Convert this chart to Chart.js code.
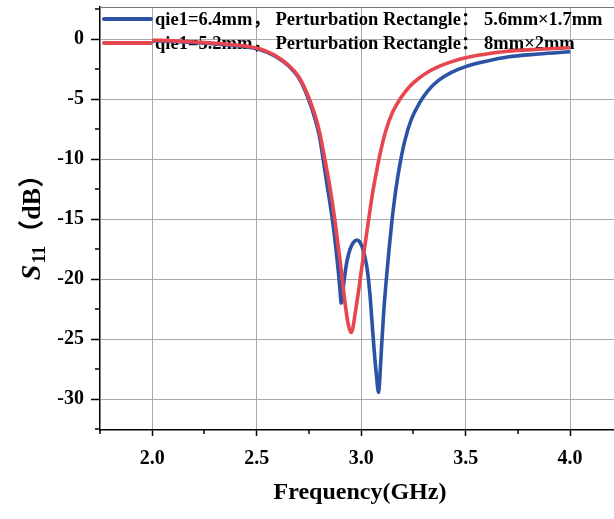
<!DOCTYPE html>
<html><head><meta charset="utf-8">
<script src="https://cdn.jsdelivr.net/npm/chart.js@4.4.0/dist/chart.umd.min.js"></script>
<style>html,body{margin:0;padding:0;background:#fff;}#wrap{width:614px;height:519px;}</style>
</head><body><div id="wrap"><canvas id="c" width="614" height="519"></canvas></div>
<script>
const seriesLabels = [
  "qie1=6.4mm\uFF0C Perturbation Rectangle\uFF1A 5.6mm\u00D71.7mm",
  "qie1=5.2mm\uFF0C Perturbation Rectangle\uFF1A 8mm\u00D72mm"
];
const blueFreq = [2.00,2.10,2.20,2.30,2.40,2.50,2.55,2.60,2.65,2.70,2.75,2.78,2.80,2.817,2.833,2.850,2.865,2.880,2.892,2.899,2.904,2.908,2.913,2.920,2.932,2.947,2.963,2.980,2.995,3.010,3.022,3.032,3.042,3.052,3.062,3.073,3.083,3.090,3.098,3.108,3.120,3.133,3.147,3.160,3.175,3.190,3.210,3.240,3.280,3.320,3.370,3.430,3.500,3.600,3.700,3.850,4.00];
const blueS11 = [-0.15,-0.2,-0.3,-0.4,-0.55,-0.8,-1.1,-1.55,-2.2,-3.2,-5.1,-6.7,-8.1,-9.9,-11.75,-13.6,-15.4,-17.6,-19.6,-21.0,-22.0,-21.9,-21.0,-19.9,-18.5,-17.5,-16.95,-16.75,-16.95,-17.6,-18.5,-19.6,-21.3,-23.6,-25.9,-28.0,-29.45,-28.0,-25.5,-22.7,-20.1,-17.6,-15.2,-13.3,-11.5,-10.0,-8.4,-6.7,-5.3,-4.3,-3.45,-2.8,-2.3,-1.85,-1.5,-1.25,-1.06];
const redFreq = [2.00,2.10,2.20,2.30,2.40,2.50,2.55,2.60,2.65,2.70,2.75,2.78,2.80,2.825,2.850,2.875,2.900,2.920,2.935,2.945,2.952,2.960,2.970,2.985,3.000,3.018,3.036,3.055,3.075,3.090,3.115,3.150,3.190,3.230,3.270,3.320,3.370,3.430,3.500,3.600,3.700,3.850,4.00];
const redS11 = [-0.1,-0.15,-0.25,-0.35,-0.5,-0.75,-1.05,-1.5,-2.15,-3.1,-4.9,-6.4,-7.7,-9.9,-12.3,-15.2,-18.6,-21.6,-23.5,-24.25,-24.45,-24.1,-23.0,-21.3,-19.4,-17.2,-15.0,-12.8,-10.9,-9.6,-7.8,-6.1,-4.9,-4.0,-3.35,-2.75,-2.3,-1.9,-1.55,-1.25,-1.02,-0.85,-0.72];
const xMajorTicks = [2.0,2.5,3.0,3.5,4.0];
const xMinorTicks = [1.75,2.25,2.75,3.25,3.75];
const yMajorTicks = [0,-5,-10,-15,-20,-25,-30];
const yMinorTicks = [2.5,-2.5,-7.5,-12.5,-17.5,-22.5,-27.5,-32.5];
const xTitle = "Frequency(GHz)";
const yTitleMain = "S", yTitleSub = "11", yTitleUnit = "\uFF08dB\uFF09";

const BLUE = '#2a53a6', RED = '#e8464f';
const SERIF = "'Liberation Serif','Times New Roman','Noto Sans CJK SC',serif";

const deco = {
  id: 'deco',
  beforeDatasetsDraw(chart) {
    const ctx = chart.ctx, a = chart.chartArea;
    ctx.save();
    ctx.strokeStyle = '#777'; ctx.lineWidth = 1;
    ctx.beginPath(); ctx.moveTo(a.left, a.top + 0.5); ctx.lineTo(a.right, a.top + 0.5); ctx.stroke();
    const cols = [BLUE, RED];
    const rows = [19, 43];
    ctx.font = "bold 18.5px " + SERIF;
    ctx.textBaseline = 'middle'; ctx.textAlign = 'left';
    for (let i = 0; i < 2; i++) {
      ctx.strokeStyle = cols[i]; ctx.lineWidth = 4; ctx.lineCap = 'round';
      ctx.beginPath(); ctx.moveTo(104, rows[i]); ctx.lineTo(151, rows[i]); ctx.stroke();
      ctx.fillStyle = '#000';
      ctx.fillText(seriesLabels[i], 155, rows[i] + 1);
    }
    ctx.restore();
  },
  afterDraw(chart) {
    const ctx = chart.ctx, xs = chart.scales.x, ys = chart.scales.y;
    ctx.save();
    ctx.strokeStyle = '#000'; ctx.lineWidth = 1.5;
    xMinorTicks.forEach(v => {
      const px = Math.round(xs.getPixelForValue(v));
      ctx.beginPath(); ctx.moveTo(px, xs.top); ctx.lineTo(px, xs.top + 4); ctx.stroke();
    });
    yMinorTicks.forEach(v => {
      const py = Math.round(ys.getPixelForValue(v));
      ctx.beginPath(); ctx.moveTo(ys.right, py); ctx.lineTo(ys.right - 5, py); ctx.stroke();
    });
    ctx.fillStyle = '#000';
    ctx.font = "bold 24px " + SERIF;
    ctx.textAlign = 'center'; ctx.textBaseline = 'alphabetic';
    ctx.fillText(xTitle, 360, 499);
    ctx.translate(40, 221);
    ctx.rotate(-Math.PI / 2);
    const fMain = "italic bold 28px " + SERIF, fSub = "bold 19px " + SERIF, fUnit = "bold 26px " + SERIF;
    ctx.font = fMain; const w1 = ctx.measureText(yTitleMain).width;
    ctx.font = fSub; const w2 = ctx.measureText(yTitleSub).width;
    ctx.font = fUnit; const w3 = ctx.measureText(yTitleUnit).width;
    let x0 = -(w1 + w2 + w3 + 1) / 2;
    ctx.textAlign = 'left';
    ctx.font = fMain; ctx.fillText(yTitleMain, x0, 0); x0 += w1 + 1;
    ctx.font = fSub; ctx.fillText(yTitleSub, x0, 5); x0 += w2;
    ctx.font = fUnit; ctx.fillText(yTitleUnit, x0, 0);
    ctx.restore();
  }
};

function noPad(s) { s.paddingTop = 0; s.paddingBottom = 0; s.paddingLeft = 0; s.paddingRight = 0; }

new Chart(document.getElementById('c'), {
  type: 'line',
  data: {
    datasets: [
      { label: seriesLabels[0], data: blueFreq.map((f, i) => ({x: f, y: blueS11[i]})), borderColor: BLUE, borderWidth: 3.6, pointRadius: 0, cubicInterpolationMode: 'monotone', fill: false, order: 1 },
      { label: seriesLabels[1], data: redFreq.map((f, i) => ({x: f, y: redS11[i]})), borderColor: RED, borderWidth: 3.6, pointRadius: 0, cubicInterpolationMode: 'monotone', fill: false, order: 0 }
    ]
  },
  options: {
    responsive: false, animation: false, devicePixelRatio: 1,
    layout: { padding: { top: 7, right: 0, left: 0, bottom: 0 } },
    plugins: { legend: { display: false }, tooltip: { enabled: false } },
    scales: {
      x: {
        type: 'linear', min: 1.75, max: 4.21,
        afterBuildTicks: s => { s.ticks = xMajorTicks.map(v => ({ value: v })); },
        afterFit: s => { s.height = 89; noPad(s); },
        ticks: { font: { family: SERIF, size: 20, weight: 'bold' }, color: '#000', padding: 11, maxRotation: 0, autoSkip: false, callback: v => Number(v).toFixed(1) },
        grid: { color: '#aaaaaa', lineWidth: 1, tickLength: 6, tickColor: '#000', tickWidth: 1.5 },
        border: { color: '#000', width: 1.5 }
      },
      y: {
        type: 'linear', min: -32.58, max: 2.67,
        afterBuildTicks: s => { s.ticks = yMajorTicks.map(v => ({ value: v })); },
        afterFit: s => { s.width = 100; noPad(s); },
        ticks: { font: { family: SERIF, size: 20, weight: 'bold' }, color: '#000', padding: 7, autoSkip: false, callback: v => String(v) },
        grid: { color: '#aaaaaa', lineWidth: 1, tickLength: 9, tickColor: '#000', tickWidth: 1.5 },
        border: { color: '#000', width: 1.5 }
      }
    }
  },
  plugins: [deco]
});
</script></body></html>
